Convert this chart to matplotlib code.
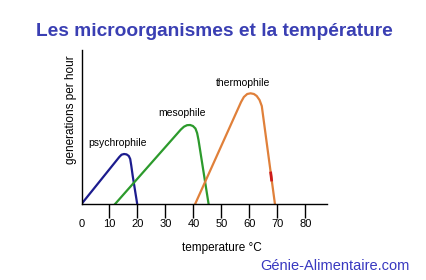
import matplotlib
matplotlib.use("Agg")
import matplotlib.pyplot as plt

# temperature (°C) / growth rate points
psychro_t = [0, 13.5, 14.3, 15.2, 16.1, 16.9, 17.4, 17.8, 18.3, 19.9]
psychro_g = [0, 47, 49.3, 50, 49.6, 48, 45, 38, 28, 0]

meso_t = [12, 35.5, 36.6, 37.7, 38.8, 39.8, 40.7, 41.3, 41.8, 45.4]
meso_g = [0, 74.5, 77.3, 78.8, 79, 78, 75.5, 71, 64, 0]

thermo_t = [40.6, 57, 58, 59.2, 60.4, 61.6, 62.6, 63.6, 64.4, 69.1]
thermo_g = [0, 102, 107, 110, 110.7, 110, 108, 104, 98, 0]

mark_t = [67.6, 67.9]
mark_g = [31, 24]

xticks = [10, 20, 30, 40, 50, 60, 70, 80]
xlabels = ["0"] + [str(v) for v in xticks]

narrow = ["Liberation Sans Narrow", "Liberation Sans", "DejaVu Sans"]

fig = plt.figure(figsize=(4.26, 2.80), dpi=100)
W, H = 426, 280
ax = fig.add_axes([81.5 / W, (H - 204) / H, (327 - 81.5) / W, (204 - 50) / H])

ax.plot(psychro_t, psychro_g, color="#1c1c8e", lw=1.6, solid_joinstyle="round")
ax.plot(meso_t, meso_g, color="#2c9a2c", lw=1.6, solid_joinstyle="round")
ax.plot(thermo_t, thermo_g, color="#e0803a", lw=1.6, solid_joinstyle="round")
ax.plot(mark_t, mark_g, color="#cc1a1a", lw=2)

ax.text(13, 61, "psychrophile", ha="center", va="center", fontsize=7.5, family=narrow)
ax.text(36, 91, "mesophile", ha="center", va="center", fontsize=7.5, family=narrow)
ax.text(57.7, 121, "thermophile", ha="center", va="center", fontsize=7.5, family=narrow)

ax.set_xlim(0, 87.7)
ax.set_ylim(0, 154)
for s in ["top", "right"]:
    ax.spines[s].set_visible(False)
for s in ["left", "bottom"]:
    ax.spines[s].set_linewidth(1)
ax.set_yticks([])
ax.set_xticks(xticks)
ax.set_xticklabels([])
ax.tick_params(axis="x", direction="out", length=10, width=1, color="black")
for lab in xlabels:
    ax.text(float(lab), -20, lab, ha="center", va="center", fontsize=8, family=narrow)

ax.set_xlabel("temperature °C", fontsize=8.5, family=narrow)
ax.xaxis.set_label_coords(0.57, -38 / 154)
ax.set_ylabel("generations per hour", fontsize=8.5, family=narrow)
ax.yaxis.set_label_coords(-4.5 / (327 - 81.5), 0.61)

fig.text(214 / W, 1 - 32 / H, "Les microorganismes et la température", ha="center",
         va="center", fontsize=13.8, fontweight="bold", color="#3a3fb3",
         family=["Liberation Sans", "DejaVu Sans"])
fig.text(335 / W, 1 - 266 / H, "Génie-Alimentaire.com", ha="center", va="center",
         fontsize=10.5, color="#3838c0", family=["Liberation Sans", "DejaVu Sans"])

fig.savefig("out.png", dpi=100)
